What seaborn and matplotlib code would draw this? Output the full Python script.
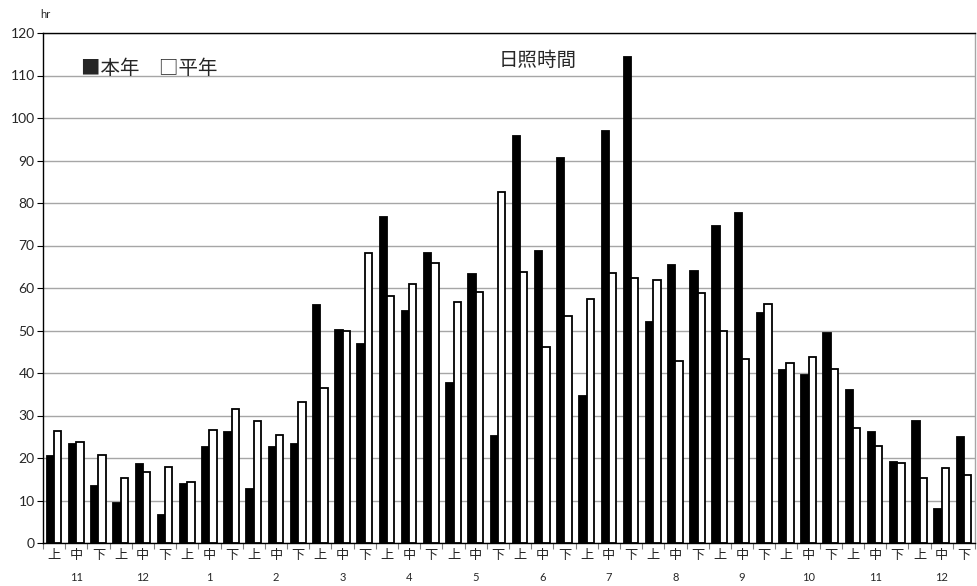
import matplotlib
matplotlib.use("Agg")
import matplotlib.pyplot as plt
import matplotlib.transforms as mtransforms
import numpy as np
import pandas as pd
import seaborn as sns

# Dekads from November to the following December
months = ["11", "12", "1", "2", "3", "4", "5", "6", "7", "8", "9", "10", "11", "12"]
dekads = ["上", "中", "下"]

# Sunshine duration (hours) per dekad
this_year = [20.5, 23.3, 13.3, 9.3, 18.7, 6.7, 14.0, 22.5, 26.1, 12.7, 22.7, 23.3,
             56.1, 50.1, 46.9, 76.6, 54.5, 68.2, 37.7, 63.4, 25.1, 95.7, 68.8, 90.5,
             34.5, 96.9, 114.4, 52.1, 65.3, 64.0, 74.6, 77.7, 54.1, 40.7, 39.5, 49.4,
             36.0, 26.2, 19.0, 28.6, 7.9, 24.9]
normal_year = [26.3, 23.8, 20.6, 15.2, 16.6, 18.0, 14.4, 26.6, 31.6, 28.6, 25.4, 33.2,
               36.4, 49.8, 68.2, 58.2, 61.0, 65.8, 56.8, 59.0, 82.7, 63.7, 46.2, 53.4,
               57.4, 63.5, 62.3, 61.8, 42.8, 58.8, 50.0, 43.4, 56.2, 42.4, 43.8, 40.9,
               27.0, 22.8, 18.8, 15.4, 17.7, 16.0]

series_names = ["本年", "平年"]

n = len(this_year)
df = pd.DataFrame({
    "idx": list(range(n)) * 2,
    "val": this_year + normal_year,
    "series": [series_names[0]] * n + [series_names[1]] * n,
})

sns.set_theme(style="white")
plt.rcParams["font.family"] = ["Lato", "Noto Sans CJK JP", "DejaVu Sans"]
cjk = ["Noto Sans CJK JP", "DejaVu Sans"]

fig = plt.figure(figsize=(9.77, 5.86), dpi=100)
ax = fig.add_axes([43 / 977, 1 - 543 / 586, (975 - 43) / 977, (543 - 33) / 586])

sns.barplot(data=df, x="idx", y="val", hue="series", hue_order=series_names,
            palette=["black", "white"], edgecolor="black", linewidth=1.3,
            width=0.66, gap=0, legend=False, ax=ax, zorder=3)

ax.set_ylim(0, 120)
ax.set_xlim(-0.5, n - 0.5)
ax.set_yticks(np.arange(0, 121, 10))
ax.yaxis.grid(True, color="#a6a6a6", linewidth=1.0, zorder=0)
ax.set_axisbelow(True)
ax.set_xlabel("")
ax.set_ylabel("")

for s in ["left", "bottom", "top"]:
    ax.spines[s].set_color("black")
    ax.spines[s].set_linewidth(1.0)
ax.spines["right"].set_color("#a6a6a6")
ax.spines["right"].set_linewidth(1.0)

# Dekad labels at bar centres, tick marks at group boundaries
ax.set_xticks(range(n))
ax.set_xticklabels([dekads[i % 3] for i in range(n)], fontsize=9.5, family=cjk)
ax.tick_params(axis="x", which="major", length=0, pad=4)
ax.set_xticks(np.arange(-0.5, n, 1), minor=True)
ax.tick_params(axis="x", which="minor", length=4, width=0.8, color="#808080", direction="out", bottom=True)
ax.tick_params(axis="y", which="major", length=4, width=0.8, color="black", direction="out", left=True, labelsize=10, pad=2)

trans = mtransforms.blended_transform_factory(ax.transData, ax.transAxes)
for m, label in enumerate(months):
    ax.text(3 * m + 1, -0.067, label, transform=trans, ha="center", va="center", fontsize=8)

fig.text(40 / 977, 1 - 15 / 586, "hr", ha="left", va="center", fontsize=8)
fig.text(81 / 977, 1 - 69 / 586, "■本年　□平年", ha="left", va="center", fontsize=14, family=cjk)
ax.text(21.8, 113.6, "日照時間", ha="center", va="center", fontsize=14, family=cjk)

fig.savefig("out.png", dpi=100)
